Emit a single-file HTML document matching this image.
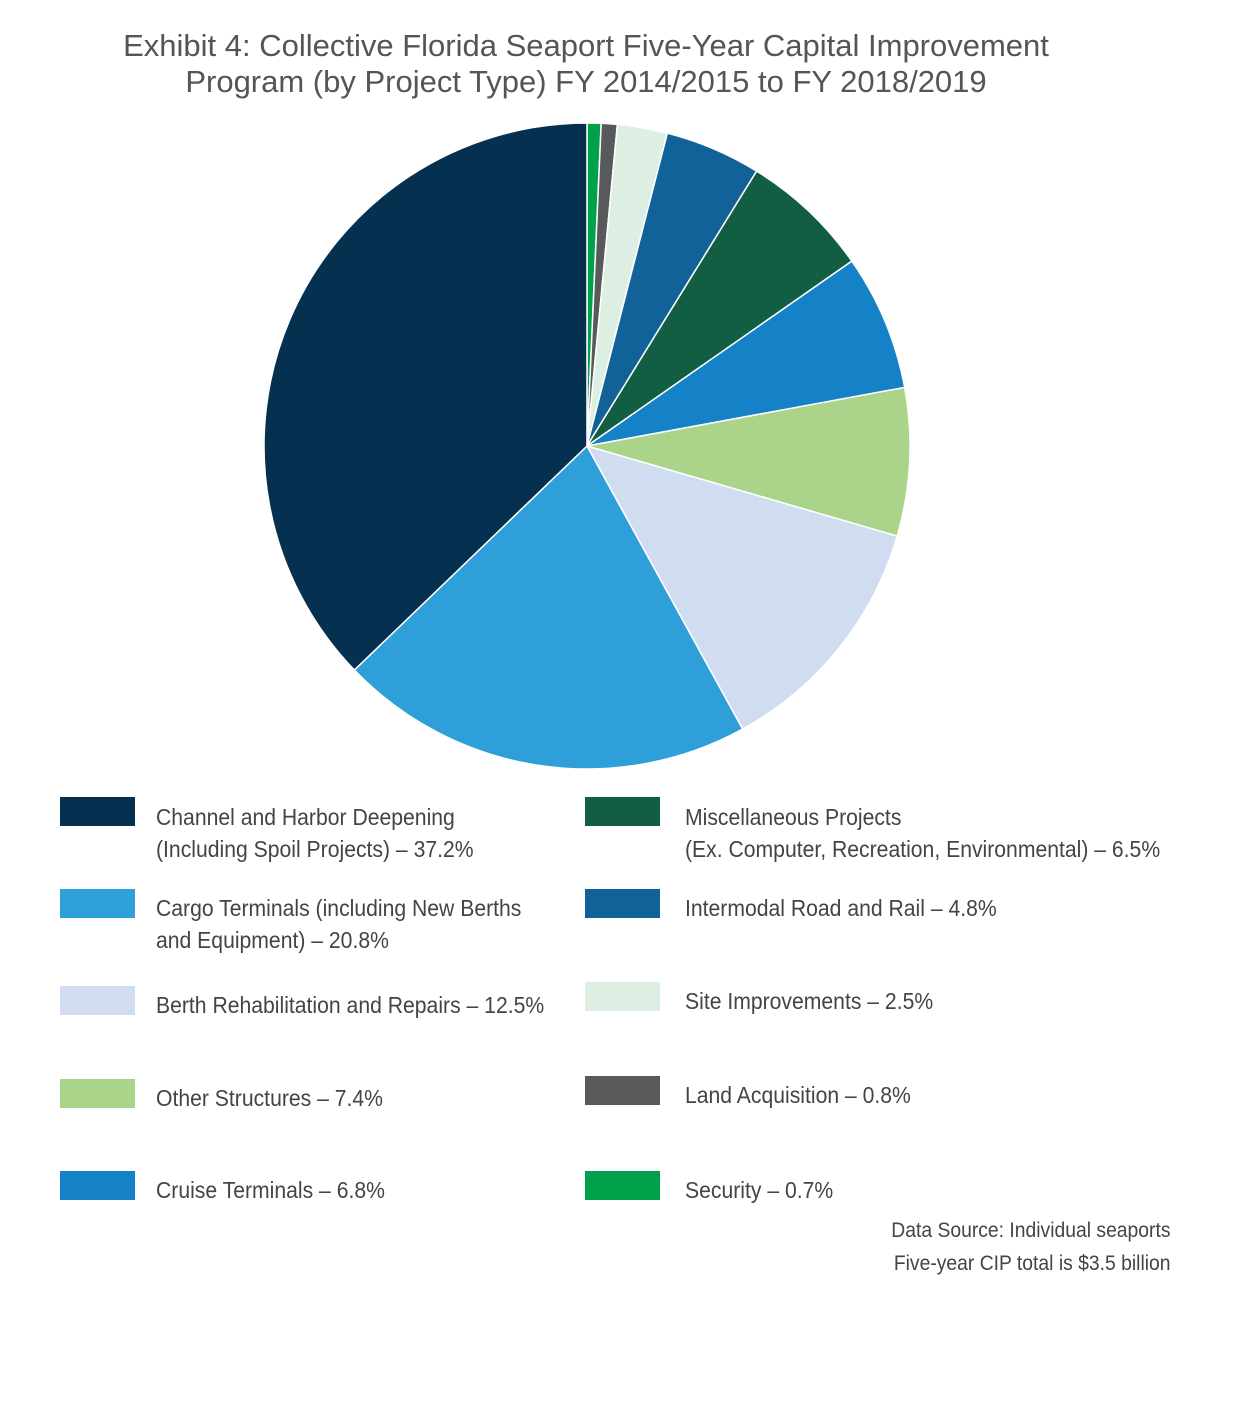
<!DOCTYPE html>
<html><head><meta charset="utf-8"><style>
body{margin:0;background:#fff;width:1244px;height:1402px;position:relative;overflow:hidden;font-family:"Liberation Sans",sans-serif}
.t{position:absolute;left:0;width:1172px;text-align:center;font-size:31px;color:#555;line-height:36px}
.sw{position:absolute;width:75px;height:29px}
.lb{position:absolute;font-family:"Liberation Sans",sans-serif;font-size:23px;color:#444;line-height:32px;white-space:nowrap;transform:scaleX(0.92);transform-origin:0 0}
.ds{position:absolute;right:73px;font-family:"Liberation Sans",sans-serif;font-size:21px;color:#444;text-align:right;line-height:33px;white-space:nowrap;transform:scaleX(0.92);transform-origin:100% 0}
</style></head><body>
<div class="t" style="top:28px">Exhibit 4: Collective Florida Seaport Five-Year Capital Improvement<br>Program (by Project Type) FY 2014/2015 to FY 2018/2019</div>
<svg id="pie" width="1244" height="800" style="position:absolute;left:0;top:0"></svg>
<div class="sw" style="left:60px;top:797px;background:#06304f"></div>
<div class="lb" style="left:156px;top:801px">Channel and Harbor Deepening<br>(Including Spoil Projects) – 37.2%</div>
<div class="sw" style="left:60px;top:889px;background:#2e9fd8"></div>
<div class="lb" style="left:156px;top:892px">Cargo Terminals (including New Berths<br>and Equipment) – 20.8%</div>
<div class="sw" style="left:60px;top:986px;background:#d0ddf0"></div>
<div class="lb" style="left:156px;top:989px">Berth Rehabilitation and Repairs – 12.5%</div>
<div class="sw" style="left:60px;top:1079px;background:#aad48a"></div>
<div class="lb" style="left:156px;top:1082px">Other Structures – 7.4%</div>
<div class="sw" style="left:60px;top:1171px;background:#1581c6"></div>
<div class="lb" style="left:156px;top:1174px">Cruise Terminals – 6.8%</div>
<div class="sw" style="left:585px;top:797px;background:#125e42"></div>
<div class="lb" style="left:685px;top:801px">Miscellaneous Projects<br>(Ex. Computer, Recreation, Environmental)  – 6.5%</div>
<div class="sw" style="left:585px;top:889px;background:#12629a"></div>
<div class="lb" style="left:685px;top:892px">Intermodal Road and Rail – 4.8%</div>
<div class="sw" style="left:585px;top:982px;background:#ddefe3"></div>
<div class="lb" style="left:685px;top:985px">Site Improvements – 2.5%</div>
<div class="sw" style="left:585px;top:1076px;background:#58595b"></div>
<div class="lb" style="left:685px;top:1079px">Land Acquisition – 0.8%</div>
<div class="sw" style="left:585px;top:1171px;background:#00a14b"></div>
<div class="lb" style="left:685px;top:1174px">Security – 0.7%</div>
<div class="ds" style="top:1214px">Data Source: Individual seaports<br>Five-year CIP total is $3.5 billion</div>
<script>
var d=[[0.7,"#00a14b"],[0.8,"#58595b"],[2.5,"#ddefe3"],[4.8,"#12629a"],[6.5,"#125e42"],[6.8,"#1581c6"],[7.4,"#aad48a"],[12.5,"#d0ddf0"],[20.8,"#2e9fd8"],[37.2,"#06304f"]];
var cx=587,cy=446,r=323,a=0,s="";
function p(t){var an=t/100*2*Math.PI;return (cx+r*Math.sin(an)).toFixed(2)+","+(cy-r*Math.cos(an)).toFixed(2);}
d.forEach(function(e){var b=a+e[0];s+='<path d="M'+cx+','+cy+' L'+p(a)+' A'+r+','+r+' 0 '+(e[0]>50?1:0)+' 1 '+p(b)+' Z" fill="'+e[1]+'" stroke="#fff" stroke-width="1.5"/>';a=b;});
document.getElementById("pie").innerHTML=s;
</script>
</body></html>
